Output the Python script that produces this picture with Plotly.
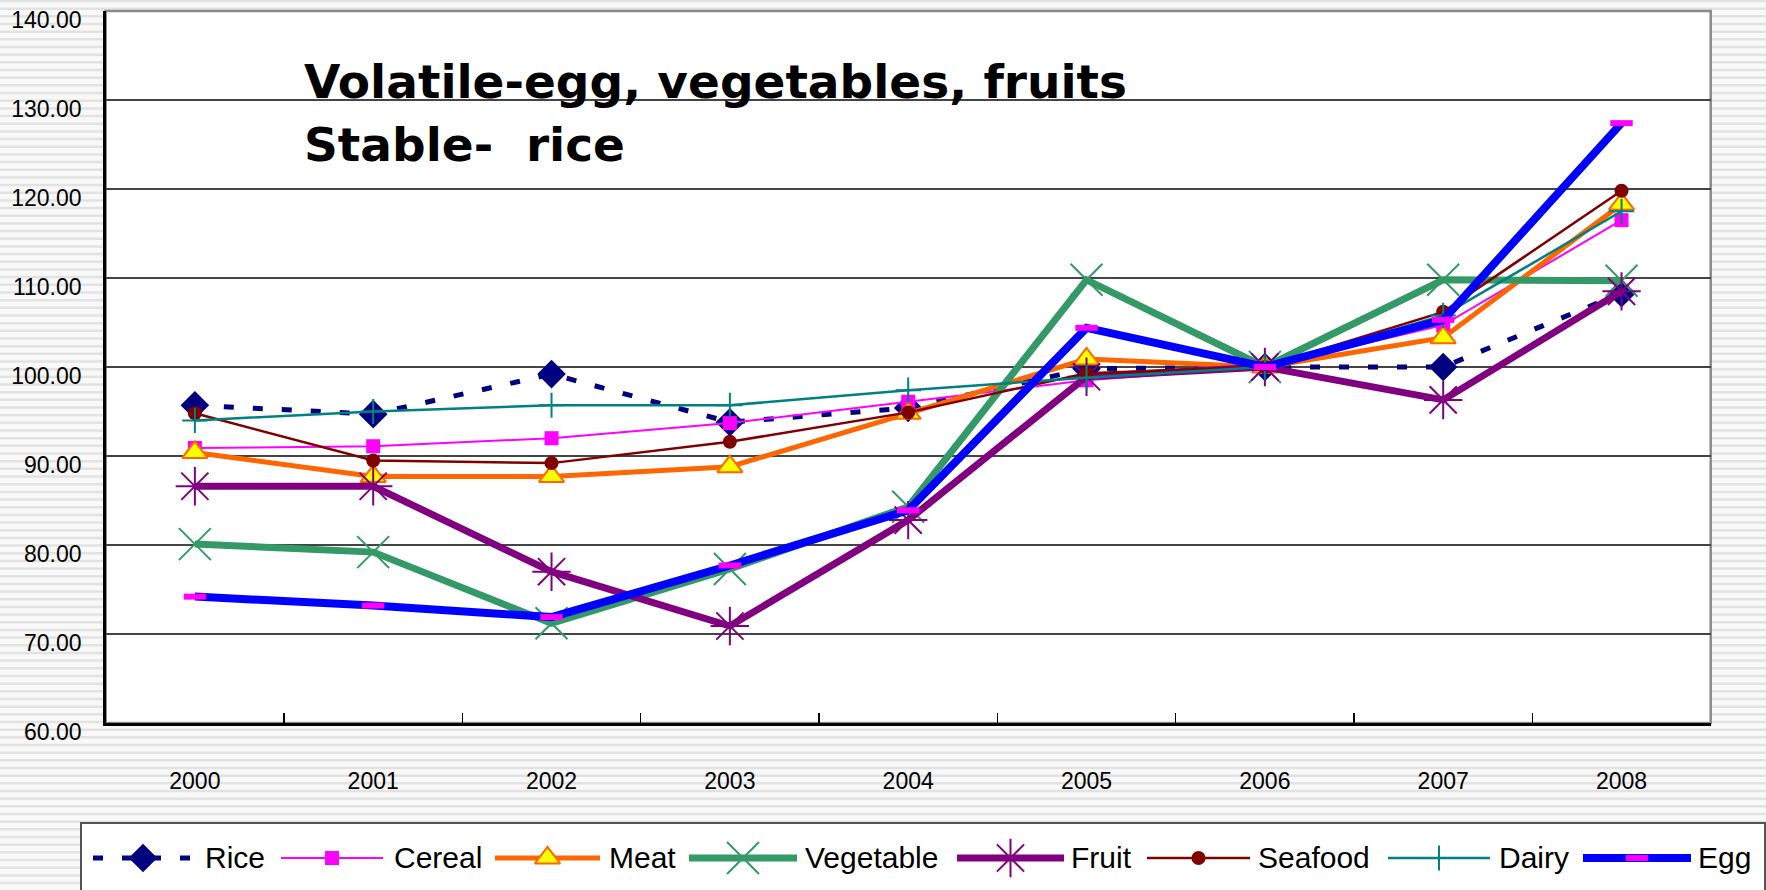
import plotly.graph_objects as go

W, H = 1766, 890

years = ["2000", "2001", "2002", "2003", "2004", "2005", "2006", "2007", "2008"]
rice = [95.7, 94.7, 99.2, 93.8, 95.4, 99.8, 100.0, 100.0, 108.3]
cereal = [90.9, 91.1, 92.0, 93.7, 96.1, 98.5, 100.0, 104.7, 116.5]
meat = [90.4, 87.7, 87.7, 88.8, 94.8, 100.9, 100.0, 103.3, 118.3]
vegetable = [80.1, 79.2, 71.2, 77.3, 84.3, 109.8, 100.0, 109.8, 109.7]
fruit = [86.6, 86.6, 77.0, 70.9, 82.8, 98.9, 100.0, 96.3, 108.5]
seafood = [94.8, 89.5, 89.2, 91.6, 94.9, 99.3, 100.0, 106.2, 119.8]
dairy = [94.0, 95.0, 95.7, 95.7, 97.4, 98.8, 100.0, 105.8, 117.5]
egg = [74.2, 73.2, 71.9, 77.7, 83.9, 104.4, 100.0, 105.3, 127.4]

series_names = ["Rice", "Cereal", "Meat", "Vegetable", "Fruit", "Seafood", "Dairy", "Egg"]
series_values = [rice, cereal, meat, vegetable, fruit, seafood, dairy, egg]

title_lines = ["Volatile-egg, vegetables, fruits", "Stable-\u00a0 rice"]

styles = {
    "Rice": dict(line=dict(color="#000080", width=5, dash="10px,19px"),
                 marker=dict(symbol="diamond", size=22, color="#000080")),
    "Cereal": dict(line=dict(color="#FF00FF", width=2),
                   marker=dict(symbol="square", size=14, color="#FF00FF")),
    "Meat": dict(line=dict(color="#FF6600", width=5),
                 marker=dict(symbol="triangle-up", size=22, color="#FFFF00",
                             line=dict(color="#FF6600", width=2))),
    "Vegetable": dict(line=dict(color="#339966", width=7),
                      marker=dict(symbol="x-thin", size=32, color="#339966",
                                  line=dict(color="#339966", width=2))),
    "Fruit": dict(line=dict(color="#800080", width=7),
                  marker=dict(symbol="asterisk", size=32, color="#800080",
                              line=dict(color="#800080", width=2))),
    "Seafood": dict(line=dict(color="#800000", width=2.5),
                    marker=dict(symbol="circle", size=14, color="#800000")),
    "Dairy": dict(line=dict(color="#008080", width=2.5),
                  marker=dict(symbol="cross-thin", size=18, color="#008080",
                              line=dict(color="#008080", width=2))),
    "Egg": dict(line=dict(color="#0000FF", width=8),
                marker=dict(symbol="line-ew", size=16, color="#FF00FF",
                            line=dict(color="#FF00FF", width=6))),
}

# layout geometry in pixels
PL, PR, PT, PB = 105.7, 1710.7, 11, 723
LEG_L, LEG_R, LEG_T = 81, 1765, 823
LEG_Y = 858
legend_slots = [(93, 193, 203), (281, 383, 392), (495, 600, 607), (689, 797, 803),
                (957, 1064, 1069), (1147, 1250, 1256), (1388, 1490, 1497), (1583, 1691, 1696)]

def fx(p):
    return p / W

def fy(p):
    return 1 - p / H

fig = go.Figure()

for name, vals in zip(series_names, series_values):
    st = styles[name]
    fig.add_trace(go.Scatter(x=years, y=vals, name=name, mode="lines+markers",
                             line=st["line"], marker=st["marker"],
                             xaxis="x", yaxis="y", cliponaxis=False))

label_family = "Liberation Sans, Arial, sans-serif"

# custom legend samples (pixel coordinate axes)
annotations = []
for (name, (x0, x1, tx)) in zip(series_names, legend_slots):
    st = styles[name]
    fig.add_trace(go.Scatter(x=[x0, x1], y=[LEG_Y, LEG_Y], mode="lines",
                             line=st["line"], xaxis="x2", yaxis="y2",
                             showlegend=False, hoverinfo="skip"))
    fig.add_trace(go.Scatter(x=[(x0 + x1) / 2], y=[LEG_Y], mode="markers",
                             marker=st["marker"], xaxis="x2", yaxis="y2",
                             showlegend=False, hoverinfo="skip"))
    annotations.append(dict(x=fx(tx), y=fy(LEG_Y - 1), xref="paper", yref="paper",
                            text=name, showarrow=False, xanchor="left", yanchor="middle",
                            font=dict(family=label_family, size=30, color="black")))

annotations.append(dict(x=fx(302), y=fy(81), xref="paper", yref="paper", text=title_lines[0],
                        showarrow=False, xanchor="left", yanchor="middle",
                        font=dict(family="DejaVu Sans", size=47, color="black", weight="bold")))
annotations.append(dict(x=fx(302), y=fy(144), xref="paper", yref="paper", text=title_lines[1],
                        showarrow=False, xanchor="left", yanchor="middle",
                        font=dict(family="DejaVu Sans", size=47, color="black", weight="bold")))

shapes = []
y = 1.0
while y < H:
    shapes.append(dict(type="line", xref="paper", yref="paper", x0=0, x1=1, y0=fy(y), y1=fy(y),
                       line=dict(color="#e2e2e2", width=2.5), layer="below"))
    y += 7.67
shapes.append(dict(type="rect", xref="paper", yref="paper", x0=fx(PL), x1=fx(PR), y0=fy(PB), y1=fy(PT),
                   fillcolor="white", line=dict(color="#8a8a8a", width=2.5), layer="below"))
shapes.append(dict(type="rect", xref="paper", yref="paper", x0=fx(LEG_L), x1=fx(LEG_R), y0=fy(H + 5), y1=fy(LEG_T),
                   fillcolor="white", line=dict(color="#555555", width=2), layer="below"))

fig.update_layout(
    template="none",
    width=W, height=H, autosize=False,
    margin=dict(l=0, r=0, t=0, b=0, pad=0),
    paper_bgcolor="#f9f9f9", plot_bgcolor="rgba(0,0,0,0)",
    showlegend=False,
    xaxis=dict(domain=[fx(PL), fx(PR)], type="category", categoryorder="array", categoryarray=years,
               range=[-0.5, 8.5], ticks="inside", tickson="boundaries", ticklen=10, tickwidth=1.5,
               tickcolor="black", showline=True, linecolor="black", linewidth=2.5, showgrid=False,
               zeroline=False, tickfont=dict(family=label_family, size=23, color="black"),
               ticklabelstandoff=36, anchor="y", fixedrange=True, automargin=False,
               ticklabeloverflow="allow"),
    yaxis=dict(domain=[fy(PB), fy(PT)], range=[60, 140], dtick=10, tick0=60, tickformat=".2f",
               showgrid=True, gridcolor="#444444", gridwidth=1.5, showline=True, linecolor="black",
               linewidth=2.5, zeroline=False, ticks="", tickfont=dict(family=label_family, size=23, color="black"),
               ticklabelstandoff=17, ticklabelshift=9, anchor="x", fixedrange=True, automargin=False,
               ticklabeloverflow="allow"),
    xaxis2=dict(domain=[0, 1], range=[0, W], visible=False, anchor="y2", fixedrange=True, automargin=False),
    yaxis2=dict(domain=[0, 1], range=[H, 0], visible=False, anchor="x2", fixedrange=True, automargin=False),
    annotations=annotations,
    shapes=shapes,
)

fig.write_html("out.html", config={"displayModeBar": False, "staticPlot": True},
               post_script="document.body.style.margin='0';document.body.style.overflow='hidden';")
